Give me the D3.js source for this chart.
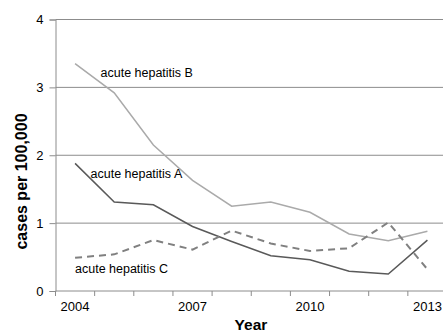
<!DOCTYPE html>
<html lang="en">
    <head>
        <meta charset="utf-8">
        <title>Acute hepatitis</title>
        <script src="https://d3js.org/d3.v7.min.js"></script>
        <style type="text/css">
            body { margin: 0; background: #fff; }
            text { font-family: "Liberation Sans", Arial, sans-serif; fill: #000; }
            .title { font-weight: bold; }
        </style>
    </head>
    <body>
        <script type="text/javascript">

            //Data
            const years = [2004, 2005, 2006, 2007, 2008, 2009, 2010, 2011, 2012, 2013];
            const yearLabels = [2004, 2007, 2010, 2013];
            const yTicks = [0, 1, 2, 3, 4];
            const hepA = [1.88, 1.31, 1.27, 0.95, 0.73, 0.52, 0.46, 0.29, 0.25, 0.75];
            const hepB = [3.35, 2.92, 2.15, 1.63, 1.25, 1.31, 1.16, 0.84, 0.74, 0.88];
            const hepC = [0.49, 0.54, 0.75, 0.61, 0.89, 0.70, 0.59, 0.63, 1.01, 0.32];

            const w = 443;
            const h = 333;
            const padL = 55.5, padR = 447, padT = 19.5, padB = 291;

            const svg = d3.select("body")
                    .append("svg")
                    .attr("width", w)
                    .attr("height", h);

            const x = d3.scaleBand().domain(years).range([padL, padR]);
            const y = d3.scaleLinear().domain([0, 4]).range([padB, padT]);

            //gridlines
            svg.append("g")
               .selectAll("line")
               .data(yTicks.filter(d => d > 0))
               .enter()
               .append("line")
               .attr("x1", padL).attr("x2", padR)
               .attr("y1", d => y(d)).attr("y2", d => y(d))
               .attr("stroke", "#8c8c8c")
               .attr("stroke-width", 1);

            //y axis
            const yAxis = svg.append("g")
               .attr("transform", "translate(" + padL + ",0)")
               .call(d3.axisLeft(y).tickValues(yTicks).tickFormat(d3.format("d")).tickSize(6).tickPadding(6));
            yAxis.select(".domain").attr("stroke", "#8c8c8c");
            yAxis.selectAll(".tick line").attr("stroke", "#8c8c8c");
            yAxis.selectAll("text").attr("font-size", 13).style("font-family", "Liberation Sans, Arial, sans-serif");

            //x axis: ticks at category boundaries
            const xAxis = svg.append("g")
               .attr("transform", "translate(0," + padB + ")");
            xAxis.append("line")
                 .attr("x1", padL).attr("x2", padR)
                 .attr("stroke", "#8c8c8c");
            xAxis.selectAll("line.tk")
                 .data(years)
                 .enter()
                 .append("line")
                 .attr("class", "tk")
                 .attr("x1", d => x(d)).attr("x2", d => x(d))
                 .attr("y1", 0).attr("y2", 5)
                 .attr("stroke", "#8c8c8c");
            xAxis.selectAll("text")
                 .data(yearLabels)
                 .enter()
                 .append("text")
                 .attr("x", d => x(d) + x.bandwidth() / 2)
                 .attr("y", 20)
                 .attr("text-anchor", "middle")
                 .attr("font-size", 13)
                 .text(d => d);

            //lines
            const line = d3.line()
                .x((d, i) => x(years[i]) + x.bandwidth() / 2)
                .y(d => y(d));

            svg.append("path").datum(hepB)
               .attr("d", line).attr("fill", "none")
               .attr("stroke", "#aaaaaa").attr("stroke-width", 1.5);
            svg.append("path").datum(hepA)
               .attr("d", line).attr("fill", "none")
               .attr("stroke", "#595959").attr("stroke-width", 1.5);
            svg.append("path").datum(hepC)
               .attr("d", line).attr("fill", "none")
               .attr("stroke", "#808080").attr("stroke-width", 2)
               .attr("stroke-dasharray", "7,5");

            //series labels
            svg.append("text").attr("x", 100.5).attr("y", 77).attr("font-size", 12.5).text("acute hepatitis B");
            svg.append("text").attr("x", 90.5).attr("y", 178).attr("font-size", 12.5).text("acute hepatitis A");
            svg.append("text").attr("x", 75).attr("y", 273).attr("font-size", 12.5).text("acute hepatitis C");

            //axis titles
            svg.append("text")
               .attr("class", "title")
               .attr("transform", "translate(27,181.5) rotate(-90)")
               .attr("text-anchor", "middle")
               .attr("font-size", 16)
               .text("cases per 100,000");
            svg.append("text")
               .attr("class", "title")
               .attr("x", 251).attr("y", 330)
               .attr("text-anchor", "middle")
               .attr("font-size", 15.5)
               .text("Year");

        </script>
    </body>
</html>
